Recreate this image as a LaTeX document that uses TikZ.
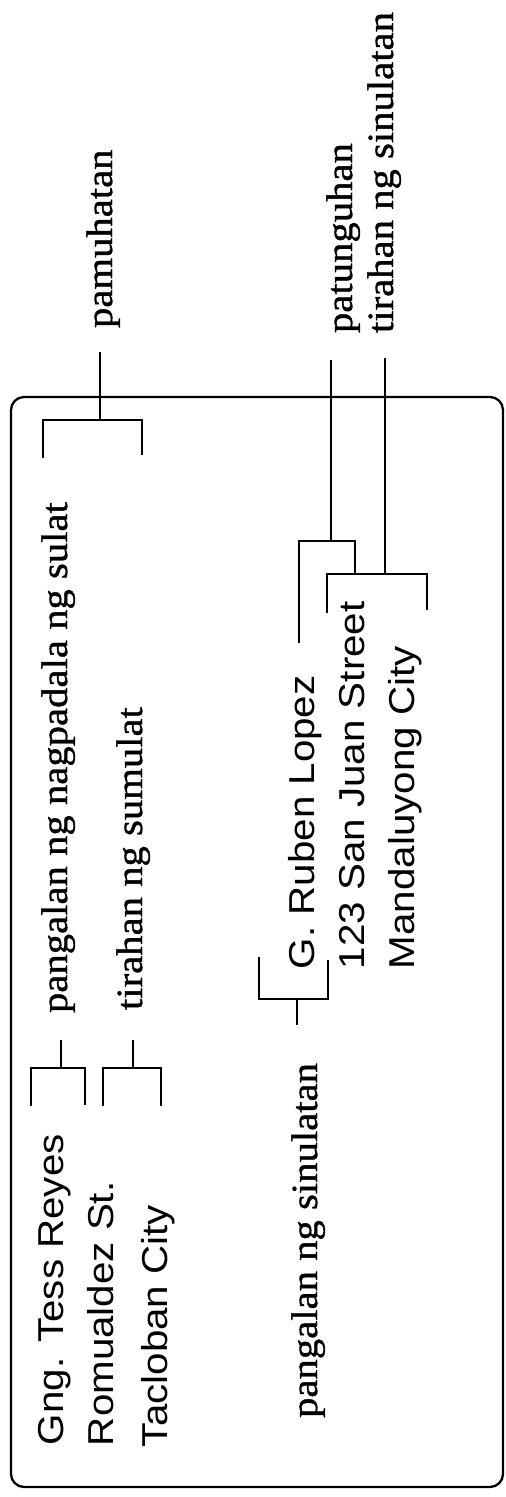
\documentclass[tikz,border=0pt]{standalone}
\usepackage{fontspec}
\newfontfamily\addrfont[FakeStretch=1.12]{Liberation Sans}
\newfontfamily\labfont[FakeStretch=1.1,FakeBold=1]{Liberation Serif}
\begin{document}
\begin{tikzpicture}[x=1pt,y=-1pt,
  addr/.style={font=\addrfont\fontsize{36}{43}\selectfont, rotate=90, anchor=base west, inner sep=0pt, outer sep=0pt},
  lab/.style={font=\labfont\fontsize{37}{41}\selectfont, rotate=90, anchor=base west, inner sep=0pt, outer sep=0pt},
  brk/.style={line width=2.2pt},
  env/.style={line width=2.3pt, rounded corners=13pt}]
\useasboundingbox (0,0) rectangle (506,1497);

% envelope
\draw[env] (11,397) rectangle (503,1487);

% sender address
\node[addr] (s1) at (63,1445) {Gng. Tess Reyes};
\node[addr] (s2) at (113,1446) {Romualdez St.};
\node[addr] (s3) at (167,1447) {Tacloban City};

% receiver address
\node[addr] (r1) at (314,969) {G. Ruben Lopez};
\node[addr] (r2) at (364,969) {123 San Juan Street};
\node[addr] (r3) at (414,969) {Mandaluyong City};

% labels
\node[lab] (pam) at (112,328) {pamuhatan};
\node[lab] (lsn) at (67,1013) {pangalan ng nagpadala ng sulat};
\node[lab] (lts) at (142,1010) {tirahan ng sumulat};
\node[lab] (pat) at (352,333) {patunguhan};
\node[lab] (tsin) at (393,333) {tirahan ng sinulatan};
\node[lab, anchor=base east] (psin) at (317,1063) {pangalan ng sinulatan};

% bracket coordinates
\coordinate (pamA) at (100,352);
\coordinate (pamB) at (100,420);
\coordinate (pamL) at (43,458);
\coordinate (pamR) at (142,455);

\coordinate (lsnA) at (61,1040);
\coordinate (lsnB) at (61,1068);
\coordinate (lsnL) at (31,1106);
\coordinate (lsnR) at (85,1105);

\coordinate (ltsA) at (133,1040);
\coordinate (ltsB) at (133,1068);
\coordinate (ltsL) at (103,1106);
\coordinate (ltsR) at (161,1106);

\coordinate (psinA) at (297,1025);
\coordinate (psinB) at (297,999);
\coordinate (psinL) at (259,957);
\coordinate (psinR) at (328,960);

\coordinate (patA) at (331,360);
\coordinate (patB) at (331,541);
\coordinate (patL) at (299,643);
\coordinate (patR) at (355,574);

\coordinate (tsinA) at (385,358);
\coordinate (tsinB) at (385,574);
\coordinate (tsinL) at (327,613);
\coordinate (tsinR) at (427,610);

% brackets
\draw[brk] (pamA) -- (pamB);
\draw[brk] (pamL) -- (pamL |- pamB) -- (pamR |- pamB) -- (pamR);

\draw[brk] (lsnA) -- (lsnB);
\draw[brk] (lsnL) -- (lsnL |- lsnB) -- (lsnR |- lsnB) -- (lsnR);

\draw[brk] (ltsA) -- (ltsB);
\draw[brk] (ltsL) -- (ltsL |- ltsB) -- (ltsR |- ltsB) -- (ltsR);

\draw[brk] (psinA) -- (psinB);
\draw[brk] (psinL) -- (psinL |- psinB) -- (psinR |- psinB) -- (psinR);

\draw[brk] (patA) -- (patB);
\draw[brk] (patL) -- (patL |- patB) -- (patR |- patB) -- (patR);

\draw[brk] (tsinA) -- (tsinB);
\draw[brk] (tsinL) -- (tsinL |- tsinB) -- (tsinR |- tsinB) -- (tsinR);
\end{tikzpicture}
\end{document}
